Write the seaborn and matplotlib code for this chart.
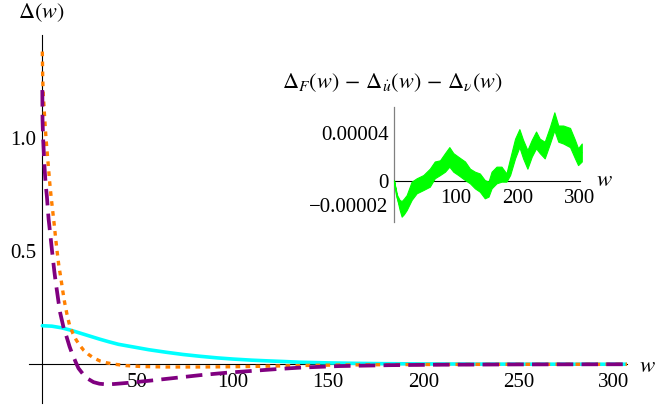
import numpy as np
import pandas as pd
import matplotlib
matplotlib.use("Agg")
import matplotlib.pyplot as plt
from matplotlib.ticker import FixedLocator, FixedFormatter, MultipleLocator, NullFormatter
import seaborn as sns

# ---- data -------------------------------------------------------------
# cyan: solid curve
cyan_w = [0, 5, 10, 15, 20, 25, 30, 35, 40, 48, 56, 65, 74, 83, 92, 100,
          110, 118, 127, 135, 150, 165, 180, 200, 230, 260, 307]
cyan_v = [0.170, 0.168, 0.161, 0.150, 0.137, 0.124, 0.111, 0.099, 0.088,
          0.076, 0.064, 0.053, 0.043, 0.035, 0.028, 0.023, 0.018, 0.015,
          0.012, 0.009, 0.006, 0.004, 0.0025, 0.0015, 0.0007, 0.0003, 0.0001]

# orange: dotted curve
orange_w = [0, 0.2, 0.5, 1.0, 1.5, 2.0, 2.6, 3.2, 3.9, 4.6, 5.4, 6.2, 7.0,
            7.8, 8.6, 9.8, 10.7, 11.7, 12.9, 14.3, 16.1, 17.8, 19.6, 21.7,
            24.3, 26.9, 30.4, 34, 38, 44, 52, 65, 83, 100, 115, 128, 140,
            160, 185, 215, 250, 307]
orange_v = [1.38, 1.26, 1.19, 1.12, 1.05, 0.99, 0.93, 0.87, 0.80, 0.74,
            0.68, 0.62, 0.555, 0.495, 0.44, 0.376, 0.325, 0.273, 0.222,
            0.172, 0.135, 0.107, 0.084, 0.062, 0.043, 0.028, 0.014, 0.006,
            0.0, -0.006, -0.010, -0.012, -0.012, -0.011, -0.009, -0.007,
            -0.005, -0.003, -0.0015, -0.0007, -0.0003, 0.0]

# purple: dashed curve
purple_w = [0, 0.1, 0.4, 0.8, 1.15, 1.7, 2.4, 3.3, 4.6, 5.1, 6.3, 7.0, 8.6,
            9.4, 11.2, 12.6, 14.3, 15.6, 17.8, 19, 21.7, 23.5, 26.9, 30, 34,
            38, 45, 57, 70, 83, 96, 109, 122, 135, 156, 183, 210, 250, 307]
purple_v = [1.21, 1.08, 1.00, 0.93, 0.87, 0.80, 0.74, 0.64, 0.54, 0.50,
            0.41, 0.364, 0.269, 0.226, 0.160, 0.125, 0.078, 0.048, 0.004,
            -0.018, -0.047, -0.062, -0.079, -0.086, -0.089, -0.087, -0.082,
            -0.072, -0.060, -0.048, -0.038, -0.030, -0.022, -0.015, -0.008,
            -0.004, -0.002, -0.0007, 0.0]

# inset: residual band (upper / lower edge, in units of 1e-5)
UNIT = 1e-5
band_w = [0, 5, 9, 12.4, 16, 20.5, 28.6, 36.7, 47.5, 58, 66, 74.5, 82.6,
          89.6, 96, 104, 115, 123, 131, 139, 147, 153, 158, 166, 174, 182,
          188, 196, 203, 209, 216, 223, 230, 236, 244, 252.5, 259.6, 266,
          274, 285, 293, 298, 304]
band_hi = [0, -1.2, -1.6, -1.7, -1.5, -1.2, -0.08, 0.2, 0.47, 1.0, 1.6, 1.7,
           2.3, 2.8, 2.3, 2.0, 1.6, 1.0, 0.75, 0.6, 0.05, -0.08, 0.75, 1.17,
           1.17, 0.6, 1.86, 3.5, 4.3, 3.4, 2.55, 3.4, 4.1, 3.5, 3.25, 4.5,
           5.7, 4.6, 4.6, 4.4, 3.4, 2.7, 3.1]
band_lo = [0, -1.5, -2.4, -3.0, -2.8, -2.45, -1.6, -1.05, -0.78, -0.5, 0.2,
           0.47, 0.75, 1.17, 0.75, 0.47, 0.05, -0.22, -0.64, -0.92, -1.47,
           -1.33, -0.64, -0.22, -0.08, -0.08, 0.47, 1.86, 2.8, 1.86, 1.0, 2.0,
           2.7, 2.3, 1.86, 3.1, 4.2, 3.25, 3.1, 2.8, 1.86, 1.3, 1.6]

main_xticks = [50, 100, 150, 200, 250, 300]
main_yticks = [0.5, 1.0]
main_yticklabels = ["0.5", "1.0"]
inset_xticks = [100, 200, 300]
inset_yticks = [-2e-5, 0, 4e-5]
inset_yticklabels = ["\u22120.00002", "0", "0.00004"]

# ---- style --------------------------------------------------------------
sns.set_theme(style="white")
plt.rcParams["font.family"] = ["Liberation Serif", "DejaVu Serif"]
plt.rcParams["mathtext.fontset"] = "stix"
plt.rcParams["axes.unicode_minus"] = True
for key in ("text.color", "xtick.color", "ytick.color", "axes.labelcolor"):
    plt.rcParams[key] = "black"

FS = 15
W, H = 656, 405
fig = plt.figure(figsize=(W / 100, H / 100), dpi=100)
fig.patch.set_facecolor("white")

# ---- main axes ------------------------------------------------------------
ax = fig.add_axes([29 / W, 2 / H, 598 / W, 368 / H])
ax.set_facecolor("none")

sns.lineplot(x=cyan_w, y=cyan_v, ax=ax, color="#00FFFF", lw=2.6,
             errorbar=None, zorder=3)
sns.lineplot(x=orange_w, y=orange_v, ax=ax, color="#FF8000", lw=2.4,
             linestyle=(0, (1.4, 1.6)), errorbar=None, zorder=4)
sns.lineplot(x=purple_w, y=purple_v, ax=ax, color="#800080", lw=2.7,
             linestyle=(0, (4.4, 2.2)), errorbar=None, zorder=5)

ax.set_xlim(-7, 307)
ax.set_ylim(-0.171, 1.453)

for side in ("top", "right"):
    ax.spines[side].set_visible(False)
ax.spines["left"].set_position(("data", 0))
ax.spines["bottom"].set_position(("data", 0))
for side in ("left", "bottom"):
    ax.spines[side].set_color("black")
    ax.spines[side].set_linewidth(0.8)
    ax.spines[side].set_zorder(2)

ax.xaxis.set_major_locator(FixedLocator(main_xticks))
ax.xaxis.set_minor_locator(MultipleLocator(10))
ax.yaxis.set_major_locator(FixedLocator(main_yticks))
ax.yaxis.set_major_formatter(FixedFormatter(main_yticklabels))
ax.yaxis.set_minor_locator(MultipleLocator(0.1))
ax.xaxis.set_minor_formatter(NullFormatter())
ax.yaxis.set_minor_formatter(NullFormatter())
ax.tick_params(axis="x", which="major", direction="in", length=5, width=0.7,
               color="black", labelsize=FS, pad=6, labelcolor="black")
ax.tick_params(axis="x", which="minor", direction="in", length=3.3, width=0.7,
               color="black")
ax.tick_params(axis="y", which="major", direction="in", length=4.8, width=0.7,
               color="black", labelsize=FS, pad=4.5, labelcolor="black")
ax.tick_params(axis="y", which="minor", direction="in", length=3, width=0.7,
               color="black")
ax.set_xlabel("")
ax.set_ylabel("")
ax.grid(False)

fig.text(41 / W, 1 - 13 / H, r"$\Delta(w)$", ha="center", va="center",
         fontsize=FS + 1)
fig.text(647 / W, 1 - 367 / H, r"$w$", ha="center", va="center",
         fontsize=FS + 1.5)

# ---- inset ------------------------------------------------------------------
ins = fig.add_axes([394 / W, (H - 221.7) / H, 189 / W, 115 / H])
ins.set_facecolor("none")
bw = np.asarray(band_w)
hi = np.asarray(band_hi) * UNIT
lo = np.asarray(band_lo) * UNIT
ins.fill_between(bw, lo, hi, color="#00FF00", lw=0.8, edgecolor="#00FF00",
                 zorder=3)
sns.lineplot(x=bw, y=(hi + lo) / 2, ax=ins, color="#00FF00", lw=1.2,
             errorbar=None, zorder=3)

ins.set_xlim(0, 306)
ins.set_ylim(-3.42e-5, 6.17e-5)
for side in ("top", "right"):
    ins.spines[side].set_visible(False)
ins.spines["bottom"].set_position(("data", 0))
ins.spines["bottom"].set_bounds(0, 301)
ins.spines["bottom"].set_color("black")
ins.spines["bottom"].set_linewidth(0.8)
ins.spines["left"].set_color("#808080")
ins.spines["left"].set_linewidth(0.9)
ins.xaxis.set_major_locator(FixedLocator(inset_xticks))
ins.yaxis.set_major_locator(FixedLocator(inset_yticks))
ins.yaxis.set_major_formatter(FixedFormatter(inset_yticklabels))
ins.tick_params(axis="x", direction="in", length=3.5, width=0.7,
                color="black", labelsize=FS, pad=6, labelcolor="black")
ins.tick_params(axis="y", direction="in", length=3, width=0.7,
                color="#808080", labelsize=FS, pad=4, labelcolor="black")
ins.set_xlabel("")
ins.set_ylabel("")
ins.grid(False)

fig.text(392 / W, 1 - 83 / H,
         r"$\Delta_F(w)\,-\,\Delta_{\dot{u}}(w)\,-\,\Delta_{\nu}(w)$",
         ha="center", va="center", fontsize=FS + 1)
fig.text(604 / W, 1 - 181 / H, r"$w$", ha="center", va="center",
         fontsize=FS + 1.5)

fig.savefig("out.png", dpi=100, facecolor="white")
